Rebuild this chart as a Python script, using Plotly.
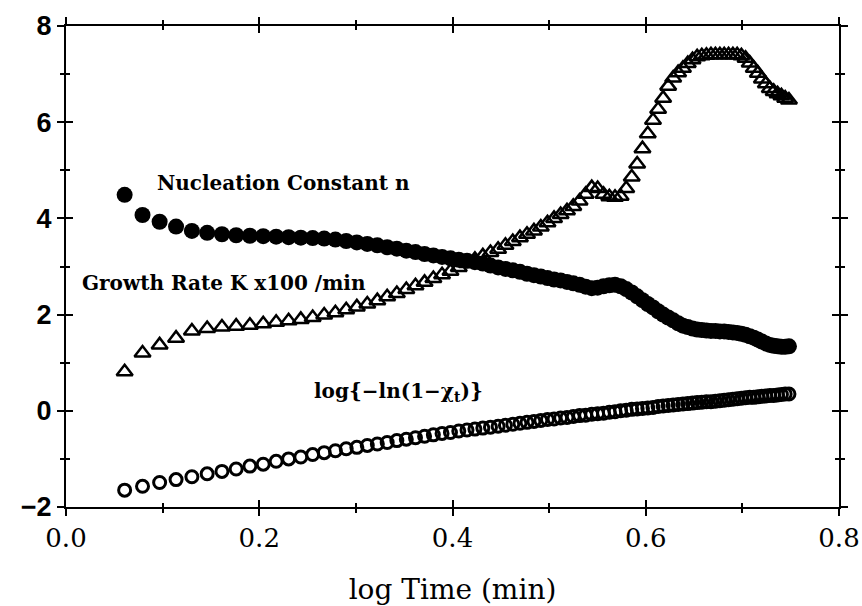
import plotly.graph_objects as go

# log10 of sampling times (1.15 min to 5.60 min, every 0.05 min)
log_time = [
    0.0607, 0.0792, 0.0969, 0.1139, 0.1303, 0.1461, 0.1614, 0.1761, 0.1903, 0.2041,
    0.2175, 0.2304, 0.2430, 0.2553, 0.2672, 0.2788, 0.2900, 0.3010, 0.3118, 0.3222,
    0.3324, 0.3424, 0.3522, 0.3617, 0.3711, 0.3802, 0.3892, 0.3979, 0.4065, 0.4150,
    0.4232, 0.4314, 0.4393, 0.4472, 0.4548, 0.4624, 0.4698, 0.4771, 0.4843, 0.4914,
    0.4983, 0.5051, 0.5119, 0.5185, 0.5250, 0.5315, 0.5378, 0.5441, 0.5502, 0.5563,
    0.5623, 0.5682, 0.5740, 0.5798, 0.5855, 0.5911, 0.5966, 0.6021, 0.6075, 0.6128,
    0.6180, 0.6232, 0.6284, 0.6335, 0.6385, 0.6435, 0.6484, 0.6532, 0.6580, 0.6628,
    0.6675, 0.6721, 0.6767, 0.6812, 0.6857, 0.6902, 0.6946, 0.6990, 0.7033, 0.7076,
    0.7118, 0.7160, 0.7202, 0.7243, 0.7284, 0.7324, 0.7364, 0.7404, 0.7443, 0.7482,
]

# Avrami nucleation constant n
nucleation_n = [
    4.49, 4.07, 3.93, 3.83, 3.74, 3.70, 3.67, 3.65, 3.64, 3.63,
    3.62, 3.61, 3.60, 3.59, 3.58, 3.56, 3.53, 3.50, 3.47, 3.44,
    3.40, 3.37, 3.33, 3.30, 3.26, 3.23, 3.20, 3.17, 3.14, 3.12,
    3.09, 3.06, 3.02, 2.98, 2.95, 2.92, 2.89, 2.85, 2.82, 2.79,
    2.76, 2.73, 2.71, 2.68, 2.65, 2.62, 2.58, 2.55, 2.56, 2.59,
    2.61, 2.62, 2.59, 2.53, 2.46, 2.38, 2.30, 2.22, 2.15, 2.07,
    2.00, 1.94, 1.88, 1.82, 1.77, 1.74, 1.71, 1.69, 1.68, 1.67,
    1.66, 1.66, 1.65, 1.65, 1.64, 1.63, 1.62, 1.60, 1.58, 1.55,
    1.52, 1.48, 1.44, 1.40, 1.37, 1.35, 1.34, 1.33, 1.33, 1.34,
]

# growth rate K x100 (1/min)
growth_rate_k = [
    0.81, 1.20, 1.37, 1.51, 1.66, 1.71, 1.74, 1.76, 1.78, 1.81,
    1.84, 1.87, 1.90, 1.94, 1.99, 2.04, 2.10, 2.16, 2.22, 2.29,
    2.37, 2.44, 2.52, 2.60, 2.67, 2.75, 2.83, 2.90, 2.98, 3.06,
    3.15, 3.22, 3.29, 3.36, 3.44, 3.52, 3.60, 3.67, 3.74, 3.82,
    3.91, 4.00, 4.08, 4.16, 4.25, 4.36, 4.50, 4.64, 4.62, 4.50,
    4.45, 4.44, 4.46, 4.62, 4.86, 5.13, 5.45, 5.76, 6.04, 6.27,
    6.50, 6.75, 6.92, 7.03, 7.12, 7.22, 7.30, 7.36, 7.38, 7.39,
    7.40, 7.40, 7.40, 7.40, 7.40, 7.40, 7.40, 7.38, 7.33, 7.23,
    7.12, 7.02, 6.90, 6.80, 6.70, 6.64, 6.59, 6.55, 6.50, 6.46,
]

# log{-ln(1 - X_t)}
log_ln_x = [
    -1.65, -1.57, -1.49, -1.43, -1.37, -1.31, -1.26, -1.21, -1.15, -1.11,
    -1.05, -1.00, -0.96, -0.91, -0.87, -0.83, -0.79, -0.76, -0.72, -0.69,
    -0.66, -0.62, -0.59, -0.56, -0.53, -0.50, -0.47, -0.45, -0.42, -0.40,
    -0.38, -0.36, -0.34, -0.32, -0.30, -0.28, -0.26, -0.24, -0.22, -0.20,
    -0.18, -0.17, -0.15, -0.14, -0.12, -0.10, -0.09, -0.07, -0.06, -0.05,
    -0.03, -0.02, 0.00, 0.01, 0.03, 0.04, 0.05, 0.06, 0.07, 0.09,
    0.10, 0.11, 0.12, 0.13, 0.14, 0.15, 0.16, 0.17, 0.18, 0.19,
    0.19, 0.20, 0.21, 0.22, 0.23, 0.24, 0.25, 0.26, 0.27, 0.28,
    0.28, 0.29, 0.30, 0.31, 0.32, 0.32, 0.33, 0.34, 0.35, 0.35,
]

x_ticks = [0.0, 0.2, 0.4, 0.6, 0.8]
x_tick_labels = ["0.0", "0.2", "0.4", "0.6", "0.8"]
y_ticks = [-2, 0, 2, 4, 6, 8]
y_tick_labels = ["\u22122", "0", "2", "4", "6", "8"]

BLACK = "#000000"
SERIF = "DejaVu Serif"

fig = go.Figure()

fig.add_trace(go.Scatter(
    x=log_time, y=log_ln_x, mode="markers", name="log{-ln(1-Xt)}",
    marker=dict(symbol="circle-open", size=12, color=BLACK, line=dict(width=3, color=BLACK)),
))
fig.add_trace(go.Scatter(
    x=log_time, y=nucleation_n, mode="markers", name="Nucleation Constant n",
    marker=dict(symbol="circle", size=16, color=BLACK),
))
fig.add_trace(go.Scatter(
    x=log_time, y=growth_rate_k, mode="markers", name="Growth Rate K x100 /min",
    marker=dict(symbol="triangle-up-open", size=14, color=BLACK, line=dict(width=2.5, color=BLACK)),
))
# markerless trace that carries the inward-tick overlay axes
fig.add_trace(go.Scatter(x=log_time, y=log_ln_x, mode="none", xaxis="x2", yaxis="y2",
                         showlegend=False, hoverinfo="skip"))

common_x = dict(range=[0, 0.8], autorange=False, tickvals=x_ticks, showgrid=False, zeroline=False,
                showline=True, linecolor=BLACK, linewidth=2, tickcolor=BLACK, tickwidth=2,
                automargin=False)
common_y = dict(range=[-2, 8], autorange=False, tickvals=y_ticks, showgrid=False, zeroline=False,
                showline=True, linecolor=BLACK, linewidth=2, tickcolor=BLACK, tickwidth=2,
                automargin=False)

fig.update_layout(
    width=862, height=606,
    margin=dict(l=66, r=23, t=26, b=99),
    paper_bgcolor="white", plot_bgcolor="white",
    showlegend=False,
    # outward ticks with labels
    xaxis=dict(
        **common_x, ticktext=x_tick_labels, ticks="outside", ticklen=7, mirror="ticks",
        minor=dict(dtick=0.1, ticks="outside", ticklen=4, tickcolor=BLACK, tickwidth=1.5),
        tickfont=dict(family=SERIF, size=26, color=BLACK),
        title=dict(text="log Time (min)", font=dict(family=SERIF, size=28, color=BLACK), standoff=34),
    ),
    yaxis=dict(
        **common_y, ticktext=y_tick_labels, ticks="outside", ticklen=7, mirror="ticks",
        minor=dict(dtick=1, ticks="outside", ticklen=4, tickcolor=BLACK, tickwidth=1.5),
        tickfont=dict(family="Liberation Sans", size=27, color=BLACK, weight="bold"),
    ),
    # inward ticks so every tick crosses the frame
    xaxis2=dict(
        **common_x, overlaying="x", anchor="y2", side="bottom", ticks="inside", ticklen=7,
        mirror="ticks", showticklabels=False,
        minor=dict(dtick=0.1, ticks="inside", ticklen=4, tickcolor=BLACK, tickwidth=1.5),
    ),
    yaxis2=dict(
        **common_y, overlaying="y", anchor="x2", side="left", ticks="inside", ticklen=7,
        mirror="ticks", showticklabels=False,
        minor=dict(dtick=1, ticks="inside", ticklen=4, tickcolor=BLACK, tickwidth=1.5),
    ),
)

label_font = dict(family=SERIF, size=20, color=BLACK, weight="bold")
fig.add_annotation(x=0.092, y=4.74, text="Nucleation Constant n", showarrow=False,
                   xanchor="left", yanchor="middle", font=label_font)
fig.add_annotation(x=0.015, y=2.66, text="Growth Rate K x100 /min", showarrow=False,
                   xanchor="left", yanchor="middle", font=label_font)
fig.add_annotation(x=0.255, y=0.40, text="log{\u2212ln(1\u2212\u03c7<sub>t</sub>)}", showarrow=False,
                   xanchor="left", yanchor="middle", font=label_font)

fig.write_html("out.html")
